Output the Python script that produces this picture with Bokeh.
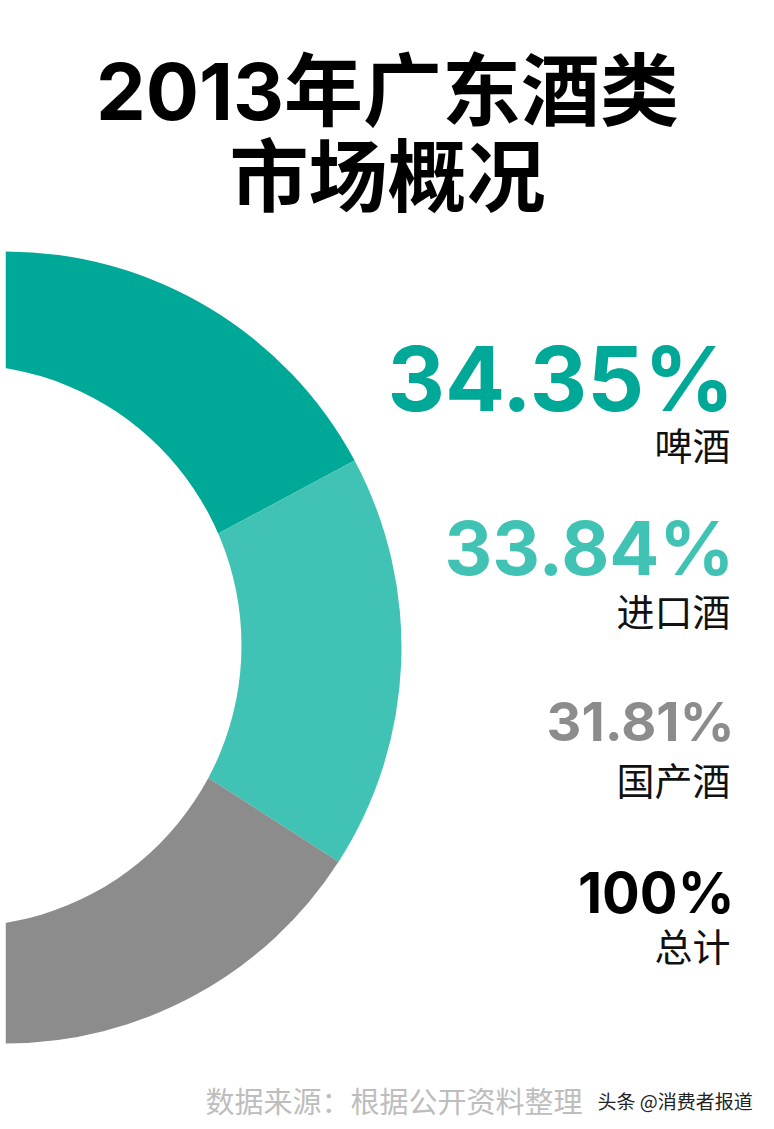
import math
from bokeh.plotting import figure
from bokeh.models import Range1d, ColumnDataSource
from bokeh.core.properties import value
from bokeh.embed import file_html
from bokeh.resources import INLINE

# ---------------- data ----------------
categories = ["啤酒", "进口酒", "国产酒"]
shares = [34.35, 33.84, 31.81]          # percent of total
total_label = "100%"
total_name = "总计"
title_lines = ["2013年广东酒类", "市场概况"]
source_note = "数据来源：根据公开资料整理"
watermark = "头条 @消费者报道"

# ---------------- style / layout ----------------
seg_colors = ["#00A898", "#40C3B4", "#8C8C8C"]
pct_colors = ["#00A898", "#40C3B4", "#8C8C8C", "#000000"]
pct_sizes = ["89px", "74px", "54px", "56px"]
pct_mid_img = [378, 547, 721, 892]      # visual centre y in page pixels
lab_mid_img = [443, 609, 778, 944]
W, H = 766, 1121
OFF = 0
PAGE_H = 1129

def Y(y_img):
    return PAGE_H - y_img

p = figure(width=W, height=H, output_backend="svg", toolbar_location=None,
           x_range=Range1d(OFF, OFF + W), y_range=Range1d(PAGE_H - OFF - H, PAGE_H - OFF),
           min_border=0)
p.axis.visible = False
p.grid.visible = False
p.outline_line_color = None
p.background_fill_color = "white"
p.border_fill_color = "white"

# ---------------- half donut ----------------
cx, cy, R = 5, Y(647), 396
starts, ends = [], []
a = math.pi / 2
tot = sum(shares)
for s in shares:
    starts.append(a)
    a = a - s / tot * math.pi
    ends.append(a)
src = ColumnDataSource(dict(start=starts, end=ends, color=seg_colors))
p.wedge(x=cx, y=cy, radius=R, start_angle="start", end_angle="end",
        direction="clock", fill_color="color", line_color=None, source=src)
# hole (slightly offset, ring thicker on the right as in the original)
p.circle(x=[-40], y=[Y(645)], radius=281, fill_color="white", line_color=None)
# thin white strip at the far left, as in the original
p.quad(left=[0], right=[5], bottom=[Y(1129)], top=[Y(0)],
       fill_color="white", line_color=None)

# ---------------- title ----------------
title_font = value("Inter, 'Noto Sans CJK SC'")
p.text(x=[387, 387], y=[Y(90), Y(176)], text=title_lines,
       text_font=title_font, text_font_style="bold", text_font_size="79px",
       text_color="#000000", text_align="center", text_baseline="middle")

# ---------------- percentages & labels ----------------
pct_texts = [f"{v:.2f}%" for v in shares] + [total_label]
names = categories + [total_name]
for i in range(4):
    p.text(x=[734], y=[Y(pct_mid_img[i])], text=[pct_texts[i]],
           text_font=value("Inter"), text_font_style="bold",
           text_font_size=pct_sizes[i], text_color=pct_colors[i],
           text_align="right", text_baseline="middle")
p.text(x=[730] * 4, y=[Y(v) for v in lab_mid_img], text=names,
       text_font=value("Noto Sans CJK SC"), text_font_size="38px",
       text_color="#111111", text_align="right", text_baseline="middle")

# ---------------- footer ----------------
p.text(x=[205], y=[Y(1099)], text=[source_note],
       text_font=value("Noto Sans CJK SC"), text_font_size="29px",
       text_color="#BDBDBD", text_align="left", text_baseline="middle")
p.text(x=[597], y=[Y(1100)], text=[watermark],
       text_font=value("Noto Sans CJK SC"), text_font_size="19px",
       text_color="#222222", text_align="left", text_baseline="middle")

open("out.html", "w").write(file_html(p, INLINE))
